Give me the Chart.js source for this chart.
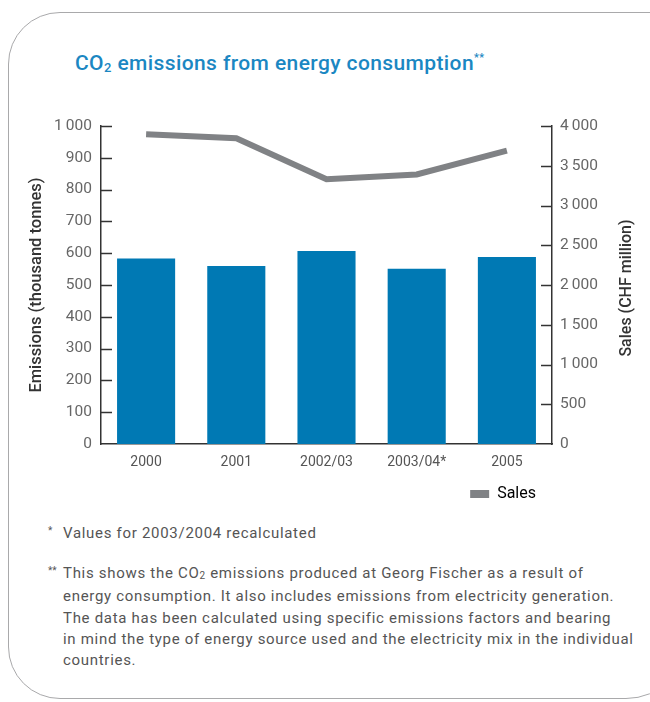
<!DOCTYPE html>
<html>
<head>
<meta charset="utf-8">
<script src="https://cdn.jsdelivr.net/npm/chart.js@4.4.1/dist/chart.umd.min.js"></script>
<style>
  html, body { margin: 0; padding: 0; background: #fff; }
  body { width: 650px; height: 702px; position: relative; overflow: hidden; font-family: Roboto, sans-serif; }
  .frame { position: absolute; left: 8px; top: 12px; width: 680px; height: 687px;
           border: 1.5px solid #a9a9ab; border-radius: 52px 0 62px 52px; box-sizing: border-box; }
  .title { position: absolute; left: 75px; top: 51px; font-size: 21px; font-weight: 500; letter-spacing: 0.4px; color: #1b87c2; white-space: nowrap; }
  .title sub { font-size: 13px; vertical-align: -2px; }
  .title sup { font-size: 11px; vertical-align: 9px; }
  #wrap { position: absolute; left: 0; top: 100px; width: 650px; height: 420px; }
  .note { position: absolute; left: 63px; font-size: 15px; letter-spacing: 0.7px; color: #555; line-height: 21.3px; white-space: nowrap; }
  .note .mark { position: absolute; left: -15px; top: -3px; font-size: 10px; letter-spacing: 0; }
  .note sub { font-size: 10px; vertical-align: -1px; }
</style>
</head>
<body>
<div class="frame"></div>
<div class="title">CO<sub>2</sub> emissions from energy consumption<sup>**</sup></div>
<div id="wrap"><canvas id="myChart" width="650" height="420"></canvas></div>
<div class="note" style="top:523px"><span class="mark">*</span>Values for 2003/2004 recalculated</div>
<div class="note" style="top:563px"><span class="mark">**</span>This shows the CO<sub>2</sub> emissions produced at Georg Fischer as a result of<br>energy consumption. It also includes emissions from electricity generation.<br>The data has been calculated using specific emissions factors and bearing<br>in mind the type of energy source used and the electricity mix in the individual<br>countries.</div>
<script>
    // data
    let years=['2000','2001','2002/03','2003/04*','2005'];
    let emissions=[583,560,607,551,588];
    let sales=[3895,3845,3330,3390,3690];

    let fmt=function(v){ return v>=1000 ? Math.floor(v/1000)+'\u2009'+String(v%1000).padStart(3,'0') : String(v); };

    // tick marks drawn inward from each y axis, plus the right axis title read bottom-up
    let axisExtras={
      id:'axisExtras',
      afterDraw(chart){
        let ctx=chart.ctx;
        ctx.save();
        ctx.strokeStyle='#333';
        ctx.lineWidth=1.5;
        ['y','y2'].forEach(function(id){
          let s=chart.scales[id];
          s.ticks.forEach(function(t){
            let py=Math.round(s.getPixelForValue(t.value))+0.5;
            if(t.value===0) return;
            ctx.beginPath();
            if(id==='y'){ ctx.moveTo(s.right,py); ctx.lineTo(s.right+11,py); }
            else { ctx.moveTo(s.left,py); ctx.lineTo(s.left-11,py); }
            ctx.stroke();
          });
        });
        let a=chart.chartArea;
        ctx.translate(627,(a.top+a.bottom)/2+3);
        ctx.rotate(-Math.PI/2);
        ctx.fillStyle='#333';
        ctx.font='500 16px Roboto';
        ctx.textAlign='center';
        ctx.textBaseline='middle';
        ctx.fillText('Sales (CHF million)',0,0);
        ctx.restore();
      }
    };

    let yFont={family:'Roboto',size:15.5};

    let myChart=document.getElementById('myChart').getContext('2d');
    let comboChart=new Chart(myChart, {
    type:'bar',
    data:{
    labels:years,
    datasets:[{
    type:'line',
    label:'Sales',
    data:sales,
    yAxisID:'y2',
    borderColor:'#808285',
    backgroundColor:'#808285',
    borderWidth:6,
    pointRadius:0,
    tension:0,
    order:0
    },{
    label:'Emissions',
    data:emissions,
    yAxisID:'y',
    backgroundColor:'#0079b4',
    categoryPercentage:1,
    barPercentage:0.644,
    order:1
    }]
    },
    options:{
    responsive:false,
    animation:false,
    layout:{padding:{left:0,right:0,top:26,bottom:8}},
    plugins:{
      tooltip:{enabled:false},
      legend:{
        position:'bottom',
        align:'end',
        fullSize:false,
        labels:{
          boxWidth:19, boxHeight:8, padding:16,
          color:'#555', font:{family:'Roboto',size:16},
          generateLabels:function(){ return [{text:'Sales',fillStyle:'#808285',strokeStyle:'#808285',lineWidth:0,datasetIndex:0}]; }
        }
      }
    },
    scales:{
      x:{
        grid:{display:false},
        border:{display:true,color:'#333',width:1.5},
        ticks:{color:'#555',font:{family:'Roboto',size:14},padding:2,maxRotation:0},
        afterFit:function(s){ s.height=26; }
      },
      y:{
        position:'left',
        min:0,max:1000,
        grid:{display:false,drawTicks:false},
        border:{display:true,color:'#333',width:1.5},
        ticks:{stepSize:100,color:'#666',font:yFont,padding:9,callback:function(v){ return fmt(v); }},
        title:{display:true,text:'Emissions (thousand tonnes)',color:'#333',font:{family:'Roboto',size:16.5,weight:'500'},padding:{top:27,bottom:0}},
        afterFit:function(s){ s.width=101; }
      },
      y2:{
        position:'right',
        min:0,max:4000,
        grid:{display:false,drawTicks:false},
        border:{display:true,color:'#333',width:1.5},
        ticks:{stepSize:500,color:'#666',font:yFont,padding:8,callback:function(v){ return fmt(v); }},
        afterFit:function(s){ s.width=98; }
      }
    }
    },
    plugins:[axisExtras]
    });
</script>
</body>
</html>
